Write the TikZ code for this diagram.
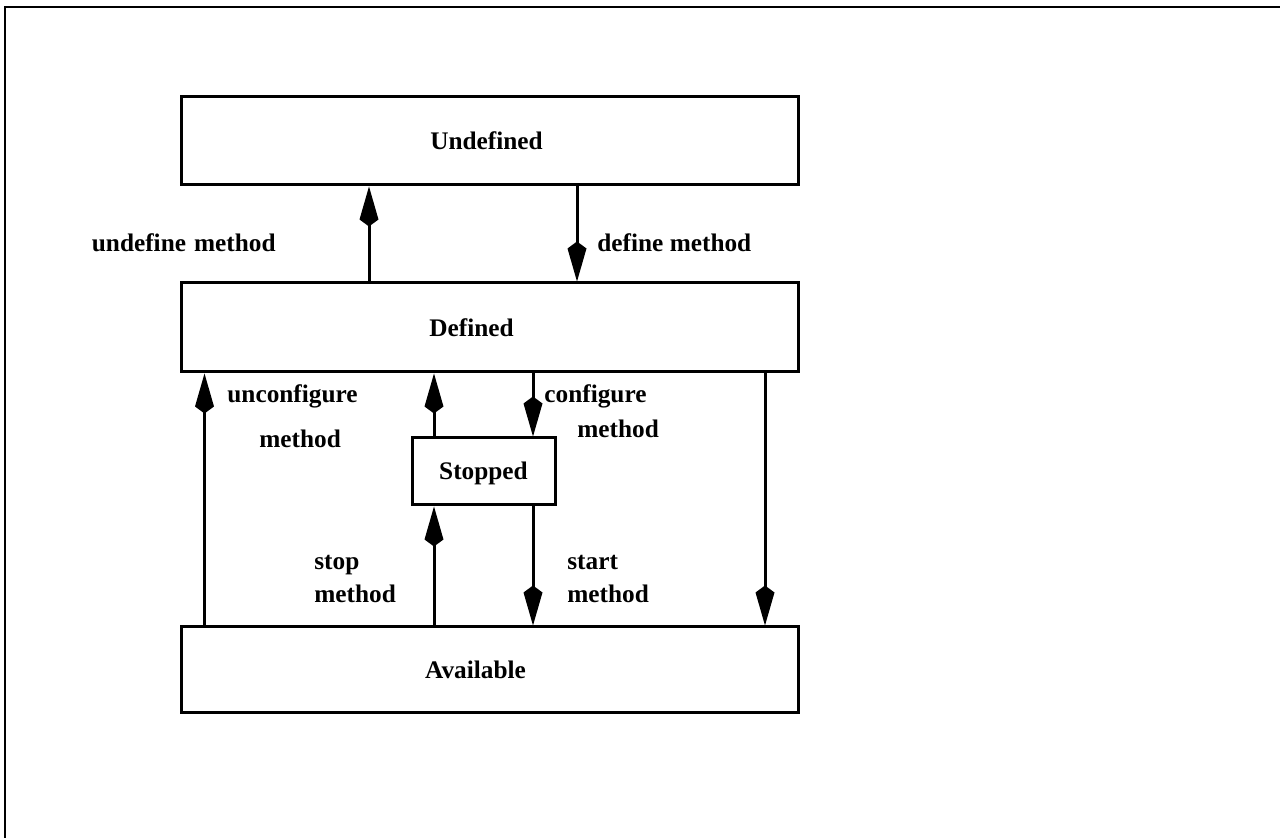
\documentclass[tikz,border=0pt]{standalone}
\usepackage{fontspec}
\newfontfamily\lblfont{Liberation Serif}
\usetikzlibrary{arrows.meta}

\begin{document}
\begin{tikzpicture}[x=0.5pt,y=-0.5pt,
  txt/.style={font=\lblfont\bfseries\fontsize{12.65pt}{15pt}\selectfont, inner sep=0pt},
  state/.style={draw, line width=1.5pt, minimum width=308.5pt, minimum height=44pt},
  lbl/.style={txt},
  trans/.style={line width=1.5pt, -{Kite[length=20pt,width=9.5pt,inset=3.5pt]}}
]
\useasboundingbox (0,0) rectangle (1280,838);

% page frame
\draw[line width=1.2pt] (5,838) -- (5,7) -- (1280,7);

% state boxes
\node[state] (und) at (489.5,141) {};
\node[state, minimum height=44.5pt] (def) at (489.5,327.5) {};
\node[state, minimum width=71.5pt, minimum height=33.5pt] (stp) at (483.5,471.5) {};
\node[state, minimum height=43pt] (avl) at (489.5,670) {};

% state names
\node[txt] (tund) at ([xshift=-1.5pt]und.center) {Undefined};
\node[txt] (tdef) at ([xshift=-9pt]def.center) {Defined};
\node[txt, yshift=-1pt] (tstp) at (stp.center) {Stopped};
\node[txt] (tavl) at ([xshift=-7pt]avl.center) {Available};

% columns of the transitions
\coordinate (xu) at (369,0);
\coordinate (xd) at (577,0);
\coordinate (xl) at (204.5,0);
\coordinate (xm) at (434,0);
\coordinate (xc) at (533,0);
\coordinate (xr) at (765,0);

% transitions
\draw[trans] (def.north -| xu) -- (und.south -| xu);
\draw[trans] (und.south -| xd) -- (def.north -| xd);
\draw[trans] (avl.north -| xl) -- (def.south -| xl);
\draw[trans] (stp.north -| xm) -- (def.south -| xm);
\draw[trans] (def.south -| xc) -- (stp.north -| xc);
\draw[trans] (avl.north -| xm) -- (stp.south -| xm);
\draw[trans] (stp.south -| xc) -- (avl.north -| xc);
\draw[trans] (def.south -| xr) -- (avl.north -| xr);

% transition labels
\node[lbl, anchor=base east] (lundef) at (276,252) {undefine\hspace{4pt}method};
\node[lbl, anchor=base west] (ldef) at (597,252) {define method};
\node[lbl, anchor=base west] (lunc1) at (227,403) {unconfigure};
\node[lbl, anchor=base west] (lunc2) at (259,448) {method};
\node[lbl, anchor=base west] (lcfg1) at (544,403) {configure};
\node[lbl, anchor=base west] (lcfg2) at (577,438) {method};
\node[lbl, anchor=base west] (lstop1) at (314,570) {stop};
\node[lbl, anchor=base west] (lstop2) at (314,603) {method};
\node[lbl, anchor=base west] (lstart1) at (567,570) {start};
\node[lbl, anchor=base west] (lstart2) at (567,603) {method};
\end{tikzpicture}
\end{document}
